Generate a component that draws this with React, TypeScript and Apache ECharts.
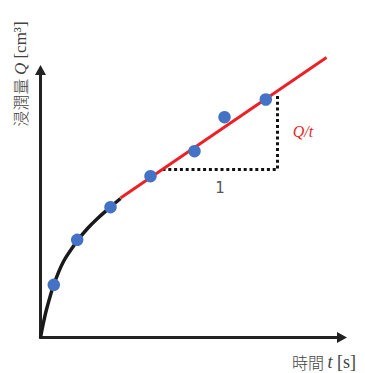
import React, { useEffect, useRef } from "react";
import * as echarts from "echarts";

// Measured data (t, Q) in chart units
const dotT = [13.3, 36.7, 70, 110, 154, 184, 225.3, 265];
const dotQ = [52.7, 97.7, 130.3, 161.3, 186.3, 220.3, 238, 267.7];

const curveT = [0, 3, 6, 13, 23, 37, 47, 57, 70, 80];
const curveQ = [0, 15, 28, 52, 76, 97, 109, 119, 130.5, 139];

const fitT = [80, 286];
const fitQ = [139.5, 280];

const triT = [122, 237, 237];
const triQ = [168, 168, 242];

const xMax = 301.5;
const yMax = 267.5;

const pairs = (a: number[], b: number[]) => a.map((v, i) => [v, b[i]]);

export default function App() {
  const ref = useRef<HTMLDivElement>(null);
  useEffect(() => {
    if (!ref.current) return;
    const chart = echarts.init(ref.current, null, { renderer: "svg" });
    const axisLine = {
      onZero: false,
      symbol: ["none", "triangle"],
      symbolSize: [11, 10],
      lineStyle: { color: "#222", width: 3 },
    };
    const rich = {
      c: { fontFamily: "Noto Sans CJK JP", fontSize: 16, fill: "#444", fontWeight: 300, lineHeight: 18 },
      i: { fontFamily: "Liberation Serif", fontStyle: "italic", fontSize: 17, fill: "#444", lineHeight: 18 },
      l: { fontFamily: "Liberation Serif", fontSize: 17, fill: "#444", lineHeight: 18 },
    };
    const richX = {
      c: { fontFamily: "Noto Sans CJK JP", fontSize: 16, fill: "#444", fontWeight: 300, lineHeight: 18 },
      i: { fontFamily: "Liberation Serif", fontStyle: "italic", fontSize: 18, fill: "#444", lineHeight: 18 },
      l: { fontFamily: "Liberation Serif", fontSize: 18, fill: "#444", lineHeight: 18 },
    };
    chart.setOption({
      animation: false,
      grid: { left: 40.5, right: 23, top: 70, bottom: 35.5 },
      xAxis: {
        type: "value",
        min: 0,
        max: xMax,
        axisLine,
        axisTick: { show: false },
        axisLabel: { show: false },
        splitLine: { show: false },
      },
      yAxis: {
        type: "value",
        min: 0,
        max: yMax,
        axisLine,
        axisTick: { show: false },
        axisLabel: { show: false },
        splitLine: { show: false },
      },
      series: [
        {
          type: "line",
          data: pairs(curveT, curveQ),
          smooth: 0.25,
          showSymbol: false,
          lineStyle: { color: "#1a1a1a", width: 3.5 },
          z: 2,
        },
        {
          type: "line",
          data: pairs(fitT, fitQ),
          showSymbol: false,
          clip: false,
          lineStyle: { color: "#EC2127", width: 3 },
          z: 3,
        },
        {
          type: "line",
          data: pairs(triT, triQ),
          showSymbol: false,
          lineStyle: { color: "#111", width: 3, type: [3, 2.8] },
          z: 2,
        },
        {
          type: "scatter",
          data: pairs(dotT, dotQ),
          symbolSize: 12.5,
          itemStyle: { color: "#4472C4", opacity: 1 },
          z: 5,
        },
      ],
      graphic: [
        {
          type: "text",
          x: 20,
          y: 74,
          rotation: Math.PI / 2,
          style: {
            text: "{c|浸潤量 }{i|Q}{l| [cm³]}",
            align: "center",
            verticalAlign: "middle",
            rich,
          },
        },
        {
          type: "text",
          x: 292,
          y: 362,
          style: {
            text: "{c|時間 }{i|t}{l| [s]}",
            align: "left",
            verticalAlign: "middle",
            rich: richX,
          },
        },
        {
          type: "text",
          x: 220,
          y: 188,
          style: {
            text: "1",
            align: "center",
            verticalAlign: "middle",
            fontFamily: "DejaVu Sans",
            fontSize: 15,
            fill: "#555",
          },
        },
        {
          type: "text",
          x: 303,
          y: 131,
          style: {
            text: "Q/t",
            align: "center",
            verticalAlign: "middle",
            fontFamily: "Liberation Serif",
            fontStyle: "italic",
            fontSize: 16,
            fill: "#E8282B",
          },
        },
      ],
    });
    return () => chart.dispose();
  }, []);
  return <div ref={ref} style={{ width: 365, height: 373, position: "absolute", left: 0, top: 0 }} />;
}
